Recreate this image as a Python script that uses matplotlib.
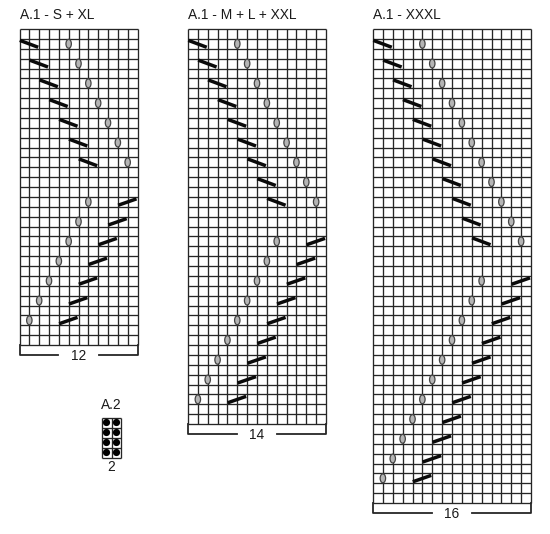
import matplotlib
matplotlib.use("Agg")
import matplotlib.pyplot as plt
from matplotlib.patches import Ellipse, Circle

plt.rcParams['font.family'] = ['Liberation Sans', 'DejaVu Sans']

W, H = 550, 534
LINE = '#262626'
TEXT_SIZE = 9.9

# A.1 - S + XL
s_cols, s_rows = 12, 32
s_down_rows = [1, 3, 5, 7, 9, 11, 13]
s_down_cols = [0, 1, 2, 3, 4, 5, 6]
s_down_ovals = [5, 6, 7, 8, 9, 10, 11]
s_up_rows = [17, 19, 21, 23, 25, 27, 29]
s_up_cols = [10, 9, 8, 7, 6, 5, 4]
s_up_ovals = [7, 6, 5, 4, 3, 2, 1]

# A.1 - M + L + XXL
m_cols, m_rows = 14, 40
m_down_rows = [1, 3, 5, 7, 9, 11, 13, 15, 17]
m_down_cols = [0, 1, 2, 3, 4, 5, 6, 7, 8]
m_down_ovals = [5, 6, 7, 8, 9, 10, 11, 12, 13]
m_up_rows = [21, 23, 25, 27, 29, 31, 33, 35, 37]
m_up_cols = [12, 11, 10, 9, 8, 7, 6, 5, 4]
m_up_ovals = [9, 8, 7, 6, 5, 4, 3, 2, 1]

# A.1 - XXXL
x_cols, x_rows = 16, 48
x_down_rows = [1, 3, 5, 7, 9, 11, 13, 15, 17, 19, 21]
x_down_cols = [0, 1, 2, 3, 4, 5, 6, 7, 8, 9, 10]
x_down_ovals = [5, 6, 7, 8, 9, 10, 11, 12, 13, 14, 15]
x_up_rows = [25, 27, 29, 31, 33, 35, 37, 39, 41, 43, 45]
x_up_cols = [14, 13, 12, 11, 10, 9, 8, 7, 6, 5, 4]
x_up_ovals = [11, 10, 9, 8, 7, 6, 5, 4, 3, 2, 1]

# A.2
dot_cols = [0, 1, 0, 1, 0, 1, 0, 1]
dot_rows = [0, 0, 1, 1, 2, 2, 3, 3]

fig = plt.figure(figsize=(W / 100, H / 100), dpi=100)


def make_grid(x0, x1, y0, y1, cols, rows):
    ax = fig.add_axes([x0 / W, 1 - y1 / H, (x1 - x0) / W, (y1 - y0) / H])
    ax.set_xlim(0, cols)
    ax.set_ylim(rows, 0)
    ax.axis('off')
    ax.vlines(range(cols + 1), 0, rows, color=LINE, lw=0.95, clip_on=False)
    ax.hlines(range(rows + 1), 0, cols, color=LINE, lw=0.95, clip_on=False)
    return ax


def draw_chart(ax, cols, rows, title, label, dn_r, dn_c, dn_o, up_r, up_c, up_o):
    for r, c, o in zip(dn_r, dn_c, dn_o):
        ax.plot([c + 0.03, c + 1.9], [r + 0.15, r + 0.85], color='#0a0a0a', lw=2.5,
                solid_capstyle='butt', clip_on=False, zorder=4)
        ax.add_patch(Ellipse((o, r + 0.5), 0.55, 0.9, fc='#b5b5b5', ec='#444444', lw=0.9, zorder=5))
    for r, c, o in zip(up_r, up_c, up_o):
        ax.plot([c + 0.03, c + 1.9], [r + 0.85, r + 0.2], color='#0a0a0a', lw=2.5,
                solid_capstyle='butt', clip_on=False, zorder=4)
        ax.add_patch(Ellipse((o, r + 0.5), 0.55, 0.9, fc='#b5b5b5', ec='#444444', lw=0.9, zorder=5))
    ax.text(0, -1.4, title, fontsize=TEXT_SIZE, color='#1a1a1a', ha='left', va='center')
    # bracket under the chart
    gap = 2.05
    mid = cols / 2
    ax.plot([0, 0, mid - gap], [rows, rows + 0.98, rows + 0.98], color=LINE, lw=1.3, clip_on=False)
    ax.plot([cols, cols, mid + gap], [rows, rows + 0.98, rows + 0.98], color=LINE, lw=1.3, clip_on=False)
    ax.text(mid, rows + 1.1, label, fontsize=TEXT_SIZE, color='#1a1a1a', ha='center', va='center')


ax1 = make_grid(19.5, 137.5, 29, 345, s_cols, s_rows)
draw_chart(ax1, s_cols, s_rows, 'A.1 - S + XL', '12',
           s_down_rows, s_down_cols, s_down_ovals, s_up_rows, s_up_cols, s_up_ovals)

ax2 = make_grid(188, 326, 29, 424, m_cols, m_rows)
draw_chart(ax2, m_cols, m_rows, 'A.1 - M + L + XXL', '14',
           m_down_rows, m_down_cols, m_down_ovals, m_up_rows, m_up_cols, m_up_ovals)

ax3 = make_grid(373, 531, 29, 503, x_cols, x_rows)
draw_chart(ax3, x_cols, x_rows, 'A.1 - XXXL', '16',
           x_down_rows, x_down_cols, x_down_ovals, x_up_rows, x_up_cols, x_up_ovals)

# small chart of dots
ax4 = make_grid(101.5, 121.5, 417.5, 457.5, 2, 4)
for c, r in zip(dot_cols, dot_rows):
    ax4.add_patch(Circle((c + 0.5, r + 0.5), 0.36, fc='black', ec='none', zorder=4))
ax4.text(1, -1.25, 'A.2', fontsize=TEXT_SIZE, color='#1a1a1a', ha='center', va='center')
ax4.text(1, 4.95, '2', fontsize=TEXT_SIZE, color='#1a1a1a', ha='center', va='center')

fig.savefig('out.png', dpi=100)
